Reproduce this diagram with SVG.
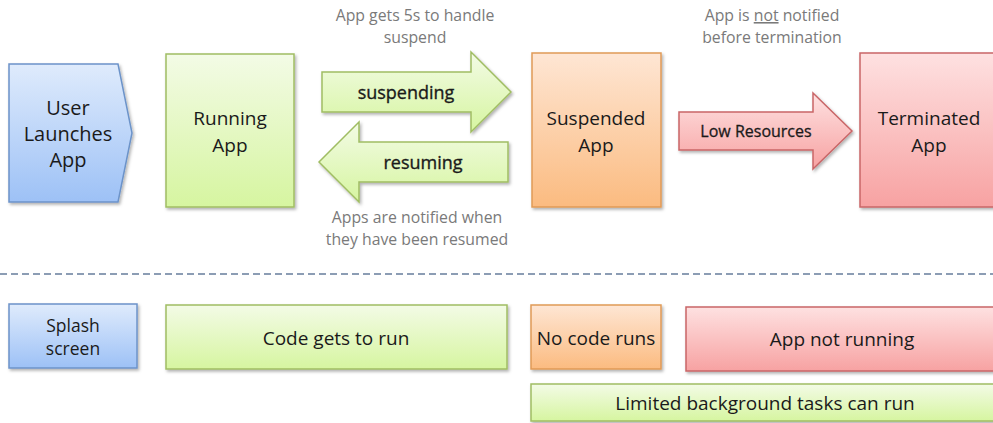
<svg xmlns="http://www.w3.org/2000/svg" width="993" height="423" viewBox="0 0 993 423">
<defs>
<linearGradient id="gBlue" x1="0" y1="0" x2="0" y2="1"><stop offset="0" stop-color="#dfebfc"/><stop offset="1" stop-color="#9dc1f6"/></linearGradient>
<linearGradient id="gGreen" x1="0" y1="0" x2="0" y2="1"><stop offset="0" stop-color="#f3fbe6"/><stop offset="1" stop-color="#d6f5a0"/></linearGradient>
<linearGradient id="gOrange" x1="0" y1="0" x2="0" y2="1"><stop offset="0" stop-color="#fee6d4"/><stop offset="1" stop-color="#fbbb80"/></linearGradient>
<linearGradient id="gRed" x1="0" y1="0" x2="0" y2="1"><stop offset="0" stop-color="#fee1e1"/><stop offset="1" stop-color="#f7a2a2"/></linearGradient>
<filter id="sh" x="-10%" y="-10%" width="130%" height="130%"><feDropShadow dx="1.5" dy="2" stdDeviation="1.5" flood-color="#000" flood-opacity="0.3"/></filter>
</defs>
<style>
text{font-family:"Open Sans","Noto Sans","Liberation Sans",sans-serif;text-anchor:middle;fill:#1a1a1a}
.blue{fill:url(#gBlue);stroke:#6c93c9;stroke-width:1.5;filter:url(#sh)}
.green{fill:url(#gGreen);stroke:#a0bd63;stroke-width:1.5;filter:url(#sh)}
.orange{fill:url(#gOrange);stroke:#e09a57;stroke-width:1.5;filter:url(#sh)}
.red{fill:url(#gRed);stroke:#c96667;stroke-width:1.5;filter:url(#sh)}
.big{font-size:19px}
.huge{font-size:20px}
.lbl{font-size:18px;stroke:#1a1a1a;stroke-width:0.35}
.lr{font-size:16px;stroke:#1a1a1a;stroke-width:0.3}
.note{font-size:15.8px;fill:#7a7a7a}
.mid{font-size:17.5px}
.small{font-size:19px}
</style>
<line x1="0" y1="274" x2="993" y2="274" stroke="#8c9db4" stroke-width="2" stroke-dasharray="7 4"/>
<g id="user-launches">
<polygon class="blue" points="9,64 118,64 132,133 118,202 9,202"/>
<text class="huge" x="68" y="115">User</text>
<text class="huge" x="68" y="141">Launches</text>
<text class="huge" x="68" y="167">App</text>
</g>
<g id="running-app">
<rect class="green" x="166" y="54" width="128" height="153"/>
<text class="big" x="230" y="125">Running</text>
<text class="big" x="230" y="152">App</text>
</g>
<g id="suspended-app">
<rect class="orange" x="532" y="53" width="129" height="154"/>
<text class="big" x="596" y="125">Suspended</text>
<text class="big" x="596" y="152">App</text>
</g>
<g id="terminated-app">
<rect class="red" x="860" y="53" width="140" height="154"/>
<text class="big" x="929" y="125">Terminated</text>
<text class="big" x="929" y="152">App</text>
</g>
<g id="connectors">
<g id="suspending">
<path class="green" d="M322,72 H471 V52 L511,92 L471,132 V112 H322 Z"/>
<text class="lbl" x="406" y="99">suspending</text>
</g>
<g id="resuming">
<path class="green" d="M508,142 H359 V122 L319,162 L359,202 V182 H508 Z"/>
<text class="lbl" x="423" y="169">resuming</text>
</g>
<g id="low-resources">
<path class="red" d="M679,112 H813 V93 L852,131 L813,169 V150 H679 Z"/>
<text class="lr" x="756" y="137">Low Resources</text>
</g>
</g>
<g id="notes">
<text class="note" x="415" y="21">App gets 5s to handle</text>
<text class="note" x="415" y="43">suspend</text>
<text class="note" x="417" y="223">Apps are notified when</text>
<text class="note" x="417" y="245">they have been resumed</text>
<text class="note" x="772" y="21">App is <tspan text-decoration="underline">not</tspan> notified</text>
<text class="note" x="772" y="43">before termination</text>
</g>
<g id="splash-screen">
<rect class="blue" x="9" y="304" width="128" height="64"/>
<text class="mid" x="73" y="332">Splash</text>
<text class="mid" x="73" y="355">screen</text>
</g>
<g id="code-gets-to-run">
<rect class="green" x="166" y="305" width="341" height="64"/>
<text class="small" x="336" y="345">Code gets to run</text>
</g>
<g id="no-code-runs">
<rect class="orange" x="531" y="305" width="130" height="64"/>
<text class="small" x="596" y="345">No code runs</text>
</g>
<g id="app-not-running">
<rect class="red" x="686" y="307" width="314" height="64"/>
<text class="small" x="842" y="346">App not running</text>
</g>
<g id="limited-background">
<rect class="green" x="531" y="384" width="469" height="37"/>
<text class="small" x="765" y="410">Limited background tasks can run</text>
</g>
</svg>
